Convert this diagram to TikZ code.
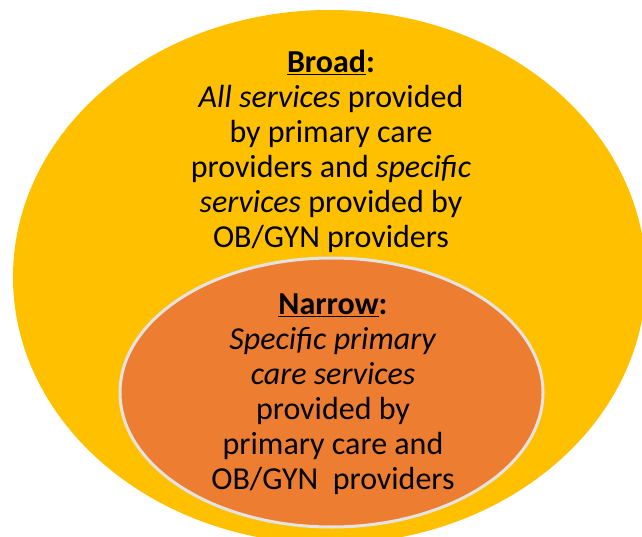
\documentclass[tikz,border=0pt]{standalone}
\usepackage{fontspec}
\setmainfont{Carlito}
\usetikzlibrary{shapes.geometric}
\definecolor{outerfill}{HTML}{FFC000}
\definecolor{innerfill}{HTML}{ED7D31}
\definecolor{innerborder}{HTML}{E3E3E3}
\tikzset{
  blob/.style={ellipse, inner sep=0pt},
  label text/.style={align=center, inner sep=0pt, text=black,
    font=\fontsize{32}{35}\selectfont}
}
\begin{document}
\begin{tikzpicture}[x=1pt,y=-1pt]
\clip (0,0) rectangle (642,537);
\fill[white] (0,0) rectangle (642,537);
\node[blob, fill=outerfill, minimum width=633pt, minimum height=534pt] (outer) at (329.5,277) {};
\node[blob, fill=innerfill, draw=innerborder, line width=3pt, minimum width=423pt, minimum height=269pt] (inner) at (331.5,392.5) {};
\node[label text] (broad) at (331,151) {\textbf{\underline{Broad}:}\\
\textit{All services} provided\\
by primary care\\
providers and \textit{specific}\\
\textit{services} provided by\\
OB/GYN providers};
\node[label text] (narrow) at (333,394) {\textbf{\underline{Narrow}:}\\
\textit{Specific primary}\\
\textit{care services}\\
provided by\\
primary care and\\
OB/GYN\ \ providers};
\end{tikzpicture}
\end{document}
